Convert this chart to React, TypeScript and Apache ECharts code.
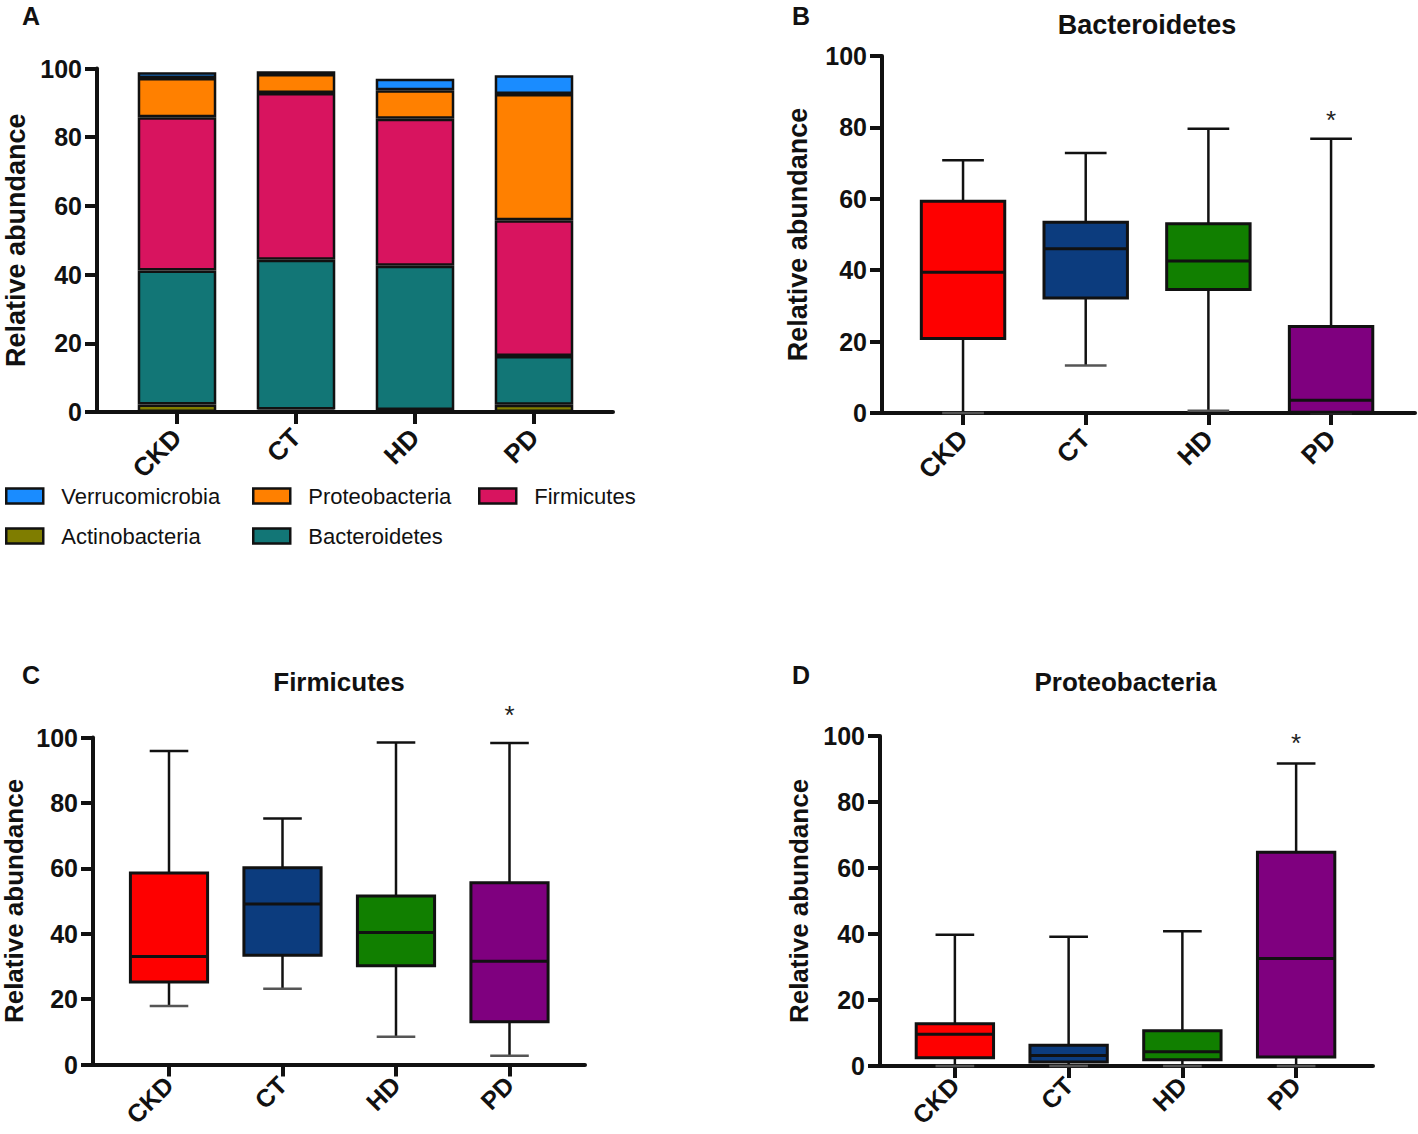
import React, { useEffect, useRef } from 'react';
import * as echarts from 'echarts';

// ---------- data ----------
const groups = ['CKD', 'CT', 'HD', 'PD'];

// Panel A: mean relative abundance (stacked, bottom to top)
const phyla = ['Actinobacteria', 'Bacteroidetes', 'Firmicutes', 'Proteobacteria', 'Verrucomicrobia'];
const phylaColors = ['#7f7d00', '#127676', '#d8145f', '#ff8000', '#1a8cff'];
const actinobacteriaMean = [2.2, 0.7, 0.6, 2.1];
const bacteroidetesMean = [39.0, 43.6, 42.0, 14.2];
const firmicutesMean = [44.6, 48.6, 42.8, 39.5];
const proteobacteriaMean = [11.4, 5.5, 8.3, 36.8];
const verrucomicrobiaMean = [1.7, 0.8, 3.3, 5.4];
const stackedValues = [actinobacteriaMean, bacteroidetesMean, firmicutesMean, proteobacteriaMean, verrucomicrobiaMean];

// Box plots: [min, q1, median, q3, max]
const bacteroidetesBox = [
  [0, 20.9, 39.4, 59.3, 70.8],
  [13.3, 32.2, 46.0, 53.4, 72.8],
  [0.6, 34.6, 42.6, 53.0, 79.6],
  [0, 0.2, 3.6, 24.2, 76.8],
];
const firmicutesBox = [
  [17.9, 25.2, 33.0, 58.6, 95.9],
  [23.2, 33.4, 49.1, 60.2, 75.2],
  [8.5, 30.2, 40.4, 51.5, 98.5],
  [2.7, 13.1, 31.6, 55.6, 98.3],
];
const proteobacteriaBox = [
  [0, 2.5, 9.6, 12.8, 39.8],
  [0, 1.2, 3.2, 6.3, 39.2],
  [0, 1.9, 4.3, 10.7, 40.8],
  [0, 2.7, 32.6, 64.8, 91.7],
];
const boxColors = ['#fe0000', '#0c3c7e', '#117f00', '#7f007f'];

// significance star heights (null = no star)
const bacteroidetesStar = [null, null, null, 82];
const firmicutesStar = [null, null, null, 107];
const proteobacteriaStar = [null, null, null, 98];

const yTicks = [0, 20, 40, 60, 80, 100];

// ---------- styling ----------
const FONT = '"Liberation Sans", Arial, Helvetica, sans-serif';
const INK = '#111';

type Panel = {
  axis: { left: number; top: number; width: number; height: number };
  bars: { left: number; width: number };
  nameGap: number;
  nameSize: number;
  labelSize: number;
  labelMargin: number;
};

const panels: Panel[] = [
  { axis: { left: 97, top: 68.5, width: 516, height: 343.5 }, bars: { left: 117.5, width: 476 }, nameGap: 68, nameSize: 27, labelSize: 26, labelMargin: 21 },
  { axis: { left: 882, top: 56, width: 533, height: 357 }, bars: { left: 901.7, width: 490.7 }, nameGap: 71, nameSize: 27, labelSize: 26, labelMargin: 21 },
  { axis: { left: 93, top: 737.5, width: 492, height: 327 }, bars: { left: 112.25, width: 454 }, nameGap: 66, nameSize: 26, labelSize: 25, labelMargin: 16 },
  { axis: { left: 880, top: 736, width: 493, height: 330 }, bars: { left: 898, width: 455 }, nameGap: 68, nameSize: 26, labelSize: 25, labelMargin: 15 },
];

function boxRenderItem(params: any, api: any) {
  const x = api.value(0);
  const lo = api.coord([x, api.value(1)]);
  const q1 = api.coord([x, api.value(2)]);
  const med = api.coord([x, api.value(3)]);
  const q3 = api.coord([x, api.value(4)]);
  const hi = api.coord([x, api.value(5)]);
  const band = api.size([1, 0])[0];
  const bw = band * 0.68;
  const cw = band * 0.34;
  const cx = lo[0];
  const lineStyle = { stroke: INK, lineWidth: 2.5 };
  return {
    type: 'group',
    children: [
      { type: 'line', shape: { x1: cx, y1: hi[1], x2: cx, y2: q3[1] }, style: lineStyle },
      { type: 'line', shape: { x1: cx, y1: q1[1], x2: cx, y2: lo[1] }, style: lineStyle },
      { type: 'line', shape: { x1: cx - cw / 2, y1: hi[1], x2: cx + cw / 2, y2: hi[1] }, style: lineStyle },
      { type: 'line', shape: { x1: cx - cw / 2, y1: lo[1], x2: cx + cw / 2, y2: lo[1] }, style: { stroke: '#555', lineWidth: 2.5 } },
      {
        type: 'rect',
        shape: { x: cx - bw / 2, y: q3[1], width: bw, height: q1[1] - q3[1] },
        style: { fill: boxColors[params.dataIndex], stroke: INK, lineWidth: 3 },
      },
      { type: 'line', shape: { x1: cx - bw / 2, y1: med[1], x2: cx + bw / 2, y2: med[1] }, style: { stroke: INK, lineWidth: 3 } },
    ],
  };
}

function starRenderItem(_params: any, api: any) {
  const p = api.coord([api.value(0), api.value(1)]);
  return {
    type: 'text',
    x: p[0],
    y: p[1],
    style: { text: '*', fontSize: 26, fontFamily: FONT, fill: '#222', textAlign: 'center', textVerticalAlign: 'middle' },
  };
}

function buildOption() {
  const grid: any[] = [];
  const xAxis: any[] = [];
  const yAxis: any[] = [];
  panels.forEach((p, i) => {
    grid.push({ left: p.axis.left, top: p.axis.top, width: p.axis.width, height: p.axis.height, outerBoundsMode: 'none', containLabel: false });
    grid.push({ left: p.bars.left, top: p.axis.top, width: p.bars.width, height: p.axis.height, outerBoundsMode: 'none', containLabel: false });
    xAxis.push({
      type: 'value', gridIndex: 2 * i, min: 0, max: 1,
      axisLine: { show: true, onZero: false, lineStyle: { color: INK, width: 4 } },
      axisTick: { show: false }, axisLabel: { show: false }, splitLine: { show: false },
    });
    xAxis.push({
      type: 'category', gridIndex: 2 * i + 1, data: groups,
      axisLine: { show: false },
      axisTick: { show: true, alignWithLabel: true, length: 12, lineStyle: { color: INK, width: 4 } },
      axisLabel: { rotate: 45, margin: p.labelMargin, fontSize: p.labelSize, fontWeight: 'bold', color: INK, fontFamily: FONT },
      splitLine: { show: false },
    });
    yAxis.push({
      type: 'value', gridIndex: 2 * i, min: yTicks[0], max: yTicks[yTicks.length - 1], interval: 20,
      axisLine: { show: true, onZero: false, lineStyle: { color: INK, width: 4 } },
      axisTick: { show: true, length: 12, lineStyle: { color: INK, width: 4 } },
      axisLabel: { margin: 15, fontSize: 25, fontWeight: 'bold', color: INK, fontFamily: FONT },
      splitLine: { show: false },
      name: 'Relative abundance', nameLocation: 'middle', nameGap: p.nameGap,
      nameTextStyle: { fontSize: p.nameSize, fontWeight: 'bold', color: INK, fontFamily: FONT },
    });
    yAxis.push({ type: 'value', gridIndex: 2 * i + 1, min: 0, max: 100, show: false });
  });

  const series: any[] = [];
  phyla.forEach((name, k) => {
    series.push({
      type: 'bar', name, stack: 'total', xAxisIndex: 1, yAxisIndex: 1,
      data: stackedValues[k], barWidth: '66%',
      itemStyle: { color: phylaColors[k], borderColor: INK, borderWidth: 2.5 },
    });
  });
  const boxSets = [bacteroidetesBox, firmicutesBox, proteobacteriaBox];
  const starSets = [bacteroidetesStar, firmicutesStar, proteobacteriaStar];
  boxSets.forEach((box, j) => {
    const ax = 2 * (j + 1) + 1;
    series.push({
      type: 'custom', xAxisIndex: ax, yAxisIndex: ax, clip: false,
      data: box.map((b, i) => [i, ...b]),
      encode: { x: 0, y: [1, 2, 3, 4, 5] },
      renderItem: boxRenderItem,
    });
    series.push({
      type: 'custom', xAxisIndex: ax, yAxisIndex: ax, clip: false,
      data: starSets[j].map((s, i) => (s == null ? null : [i, s])).filter((d) => d != null),
      encode: { x: 0, y: 1 },
      renderItem: starRenderItem,
    });
  });

  const legendItems = [
    { name: 'Verrucomicrobia', left: 5, top: 485 },
    { name: 'Proteobacteria', left: 252, top: 485 },
    { name: 'Firmicutes', left: 478, top: 485 },
    { name: 'Actinobacteria', left: 5, top: 525 },
    { name: 'Bacteroidetes', left: 252, top: 525 },
  ];
  const legend = legendItems.map((l) => ({
    data: [l.name], left: l.left, top: l.top, orient: 'horizontal', selectedMode: false, padding: 0,
    icon: 'rect', itemWidth: 37, itemHeight: 15,
    itemStyle: { borderColor: INK, borderWidth: 2.5 },
    textStyle: { fontSize: 22, color: INK, fontFamily: FONT, padding: [0, 0, 0, 13] },
  }));

  const txt = (text: string, x: number, y: number, size: number, align: string) => ({
    type: 'text', x, y,
    style: { text, fontSize: size, fontWeight: 'bold', fontFamily: FONT, fill: INK, textAlign: align, textVerticalAlign: 'middle' },
  });
  const graphic = [
    txt('A', 22, 16, 25, 'left'),
    txt('B', 792, 16, 25, 'left'),
    txt('C', 22, 675, 25, 'left'),
    txt('D', 792, 675, 25, 'left'),
    txt('Bacteroidetes', 1147, 25, 27, 'center'),
    txt('Firmicutes', 339, 682, 26, 'center'),
    txt('Proteobacteria', 1125.5, 682, 26, 'center'),
  ];

  return {
    animation: false,
    backgroundColor: '#ffffff',
    textStyle: { fontFamily: FONT },
    grid, xAxis, yAxis, series, legend, graphic,
  };
}

export default function App() {
  const ref = useRef<HTMLDivElement>(null);
  useEffect(() => {
    if (!ref.current) return;
    const chart = echarts.init(ref.current, undefined, { renderer: 'svg' });
    chart.setOption(buildOption() as any);
    return () => chart.dispose();
  }, []);
  return <div ref={ref} style={{ position: 'absolute', left: 0, top: 0, width: 1418, height: 1134 }} />;
}
